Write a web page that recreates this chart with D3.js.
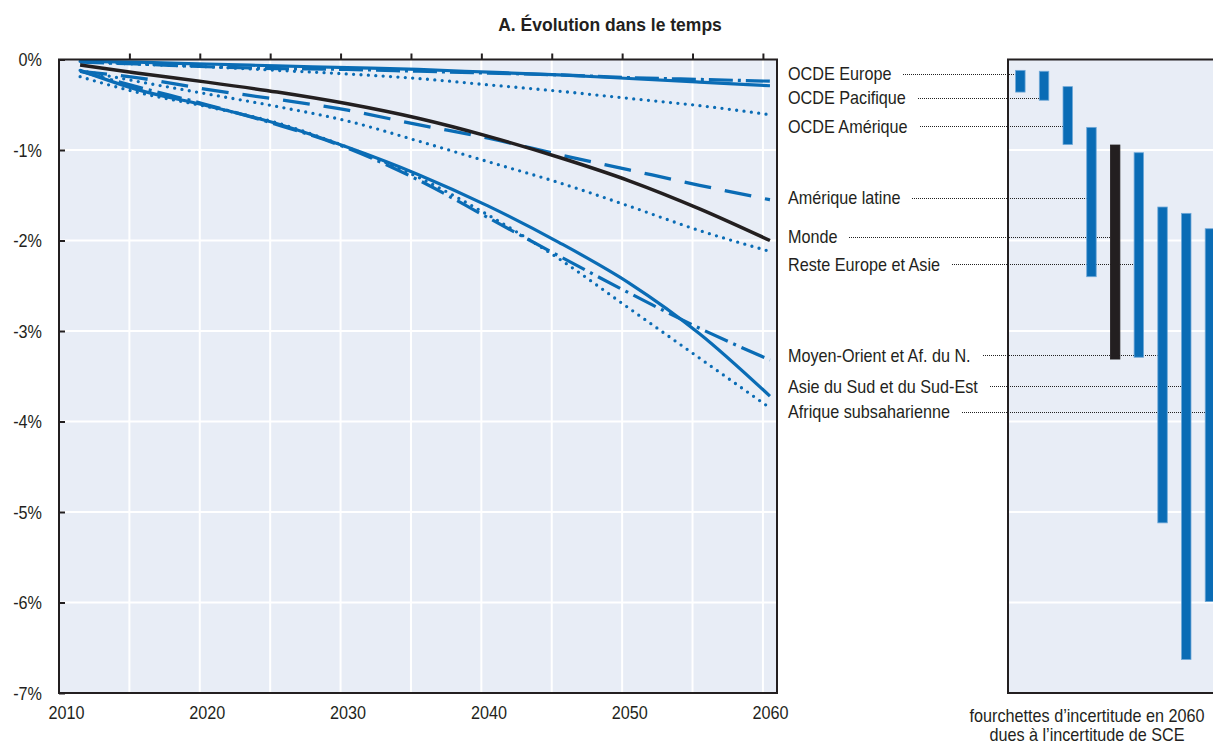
<!DOCTYPE html>
<html><head><meta charset="utf-8">
<script src="https://cdn.jsdelivr.net/npm/d3@7"></script>
<style>body{margin:0;background:#fff} svg{display:block}</style>
</head><body>
<svg id="c" width="1213" height="745"></svg>
<script>
// ---------- DATA ----------
const years = [2011, 2015, 2020, 2025, 2030, 2035, 2040, 2045, 2050, 2055, 2060];
const regions = ["OCDE Europe", "OCDE Pacifique", "OCDE Amérique", "Amérique latine", "Monde",
  "Reste Europe et Asie", "Moyen-Orient et Af. du N.", "Asie du Sud et du Sud-Est", "Afrique subsaharienne"];
const ocdeEurope     = [-0.02, -0.03, -0.05, -0.07, -0.09, -0.11, -0.14, -0.17, -0.21, -0.25, -0.29];
const ocdePacifique  = [-0.03, -0.05, -0.08, -0.10, -0.11, -0.13, -0.15, -0.17, -0.20, -0.22, -0.24];
const ocdeAmerique   = [-0.02, -0.05, -0.08, -0.12, -0.16, -0.21, -0.28, -0.35, -0.43, -0.51, -0.61];
const ameriqueLatine = [-0.13, -0.20, -0.33, -0.44, -0.56, -0.72, -0.87, -1.05, -1.22, -1.39, -1.55];
const monde          = [-0.06, -0.15, -0.25, -0.36, -0.49, -0.65, -0.85, -1.08, -1.34, -1.65, -2.00];
const resteEurAsie   = [-0.12, -0.24, -0.38, -0.52, -0.68, -0.90, -1.13, -1.36, -1.62, -1.89, -2.12];
const moyenOrient    = [-0.13, -0.30, -0.50, -0.72, -0.98, -1.33, -1.75, -2.17, -2.58, -2.97, -3.32];
const asieSud        = [-0.12, -0.33, -0.51, -0.71, -0.97, -1.27, -1.62, -2.02, -2.47, -3.03, -3.72];
const afriqueSub     = [-0.19, -0.36, -0.52, -0.70, -0.97, -1.30, -1.72, -2.20, -2.75, -3.30, -3.85];
const seriesValues = [ocdeEurope, ocdePacifique, ocdeAmerique, ameriqueLatine, monde,
  resteEurAsie, moyenOrient, asieSud, afriqueSub];

// uncertainty ranges in 2060 (panel right)
const rangeHigh = [-0.12, -0.13, -0.30, -0.75, -0.945, -1.03, -1.63, -1.70, -1.87];
const rangeLow  = [-0.36, -0.45, -0.94, -2.40, -3.31, -3.29, -5.12, -6.63, -5.99];
// value at which each region label sits
const labelValue = [-0.16, -0.42, -0.735, -1.53, -1.96, -2.26, -3.27, -3.61, -3.89];

const yTicks = [0, -1, -2, -3, -4, -5, -6, -7];
const yTickLabels = ["0%", "-1%", "-2%", "-3%", "-4%", "-5%", "-6%", "-7%"];
const xLabelYears = [2010, 2020, 2030, 2040, 2050, 2060];
const xGridYears = [2014.5, 2019.5, 2024.5, 2029.5, 2034.5, 2039.5, 2044.5, 2049.5, 2054.5, 2059.5];
const title = "A. Évolution dans le temps";
const caption = ["fourchettes d’incertitude en 2060", "dues à l’incertitude de SCE"];

// ---------- STYLE ----------
const BLUE = "#0a6cb5", BLACK = "#231f20", BG = "#e8edf6";
const FONT = "'Liberation Sans',Arial,Helvetica,sans-serif";
const FS = 16.2, SY = 1.15; // font size and vertical stretch (condensed look)
const lineStyle = [
  {c: BLUE, w: 3.2, d: null},
  {c: BLUE, w: 3.2, d: "24,5,3,5"},
  {c: BLUE, w: 3.3, d: "0,7.4", cap: "round"},
  {c: BLUE, w: 3.3, d: "27,14"},
  {c: BLACK, w: 3.5, d: null},
  {c: BLUE, w: 3.3, d: "0,7.4", cap: "round"},
  {c: BLUE, w: 3.2, d: "25,6,3,6"},
  {c: BLUE, w: 3.2, d: null},
  {c: BLUE, w: 3.3, d: "0,7.4", cap: "round"}
];

const svg = d3.select("#c");
svg.append("rect").attr("width", 1213).attr("height", 745).attr("fill", "#fff");

// helper: stretched text at (px,py) baseline
function stext(g, px, py, str, anchor) {
  return g.append("text").attr("transform", `translate(${px},${py}) scale(1,${SY})`)
    .attr("text-anchor", anchor || "start")
    .attr("font-family", FONT).attr("font-size", FS).attr("fill", BLACK).text(str);
}

// ---------- LEFT PANEL ----------
const L = {x0: 59, x1: 777, y0: 59.5, y1: 693};
const x = d3.scaleLinear().domain([2009.5, 2060.5]).range([L.x0, L.x1]);
const y = d3.scaleLinear().domain([0, -7]).range([L.y0, L.y1]);

svg.append("rect").attr("x", L.x0).attr("y", L.y0).attr("width", L.x1 - L.x0).attr("height", L.y1 - L.y0).attr("fill", BG);

svg.append("g").selectAll("line").data(xGridYears).join("line")
  .attr("x1", d => x(d)).attr("x2", d => x(d)).attr("y1", L.y0).attr("y2", L.y1)
  .attr("stroke", "#fff").attr("stroke-width", 2);
svg.append("g").selectAll("line").data(yTicks.slice(1, -1)).join("line")
  .attr("x1", L.x0).attr("x2", L.x1).attr("y1", d => y(d)).attr("y2", d => y(d))
  .attr("stroke", "#fff").attr("stroke-width", 2);

// lines
const lineGen = d3.line().x(d => x(d[0])).y(d => y(d[1])).curve(d3.curveMonotoneX);
const order = [0, 1, 2, 3, 5, 6, 7, 8, 4];
svg.append("g").selectAll("path").data(order).join("path")
  .attr("d", i => lineGen(years.map((yr, k) => [yr, seriesValues[i][k]])))
  .attr("fill", "none")
  .attr("stroke", i => lineStyle[i].c)
  .attr("stroke-width", i => lineStyle[i].w)
  .attr("stroke-dasharray", i => lineStyle[i].d)
  .attr("stroke-linecap", i => lineStyle[i].cap || "butt");

// frame
svg.append("rect").attr("x", L.x0).attr("y", L.y0).attr("width", L.x1 - L.x0).attr("height", L.y1 - L.y0)
  .attr("fill", "none").attr("stroke", BLACK).attr("stroke-width", 2);

// top ticks (category axis at 0)
const topAxis = d3.axisTop(x).tickValues(xGridYears).tickSize(6).tickFormat("");
const gTop = svg.append("g").attr("transform", `translate(0,${L.y0})`).call(topAxis);
gTop.select(".domain").remove();
gTop.selectAll("line").attr("stroke", BLACK).attr("stroke-width", 2);

// left axis
const leftAxis = d3.axisLeft(y).tickValues(yTicks).tickSizeInner(-6).tickSizeOuter(0).tickPadding(17)
  .tickFormat((d, i) => yTickLabels[i]);
const gLeft = svg.append("g").attr("transform", `translate(${L.x0},0)`).call(leftAxis);
gLeft.select(".domain").remove();
gLeft.selectAll("line").attr("stroke", BLACK).attr("stroke-width", 2);
gLeft.selectAll("text").attr("font-family", FONT).attr("font-size", FS).attr("fill", BLACK)
  .attr("dy", null).attr("y", 5.5).attr("transform", `scale(1,${SY})`);

// bottom labels
const botAxis = d3.axisBottom(x).tickValues(xLabelYears).tickSize(0).tickPadding(12).tickFormat(d3.format("d"));
const gBot = svg.append("g").attr("transform", `translate(0,${L.y1})`).call(botAxis);
gBot.select(".domain").remove();
gBot.selectAll("text").attr("font-family", FONT).attr("font-size", FS).attr("fill", BLACK)
  .attr("dy", null).attr("y", 23).attr("transform", `scale(1,${SY})`);

// title
svg.append("text").attr("x", 610).attr("y", 31).attr("text-anchor", "middle")
  .attr("font-family", FONT).attr("font-weight", "bold").attr("font-size", 17.5)
  .attr("fill", BLACK).text(title);

// ---------- RIGHT PANEL ----------
const R = {x0: 1008, x1: 1222, y0: 59.5, y1: 693};
const xb = d3.scaleBand().domain(regions).range([1008.5, 1221.8]).paddingInner(0.6).paddingOuter(0.3);

svg.append("rect").attr("x", R.x0).attr("y", R.y0).attr("width", R.x1 - R.x0).attr("height", R.y1 - R.y0).attr("fill", BG);
svg.append("g").selectAll("line").data(yTicks.slice(1, -1)).join("line")
  .attr("x1", R.x0).attr("x2", R.x1).attr("y1", d => y(d)).attr("y2", d => y(d))
  .attr("stroke", "#fff").attr("stroke-width", 2);
svg.append("rect").attr("x", R.x0).attr("y", R.y0).attr("width", R.x1 - R.x0).attr("height", R.y1 - R.y0)
  .attr("fill", "none").attr("stroke", BLACK).attr("stroke-width", 2);

// labels + leaders
const gLab = svg.append("g");
regions.forEach((r, i) => {
  const yy = y(labelValue[i]);
  const t = stext(gLab, 788, yy + 6.5, r);
  const w = t.node().getComputedTextLength();
  const yl = Math.round(yy) + 0.5;
  gLab.append("line").attr("x1", Math.round(788 + w + 12)).attr("x2", xb(r)).attr("y1", yl).attr("y2", yl)
    .attr("stroke", "#222").attr("stroke-width", 1).attr("stroke-dasharray", "1,1");
});

// bars
svg.append("g").selectAll("rect").data(regions).join("rect")
  .attr("x", d => xb(d)).attr("width", xb.bandwidth())
  .attr("y", (d, i) => y(rangeHigh[i])).attr("height", (d, i) => y(rangeLow[i]) - y(rangeHigh[i]))
  .attr("fill", d => d === "Monde" ? BLACK : BLUE)
  .attr("stroke", d => d === "Monde" ? BLACK : "#6fa8d8").attr("stroke-width", 0.8);

// caption
caption.forEach((c, k) => stext(svg, 1087, 722 + k * 19, c, "middle"));
</script>
</body></html>
